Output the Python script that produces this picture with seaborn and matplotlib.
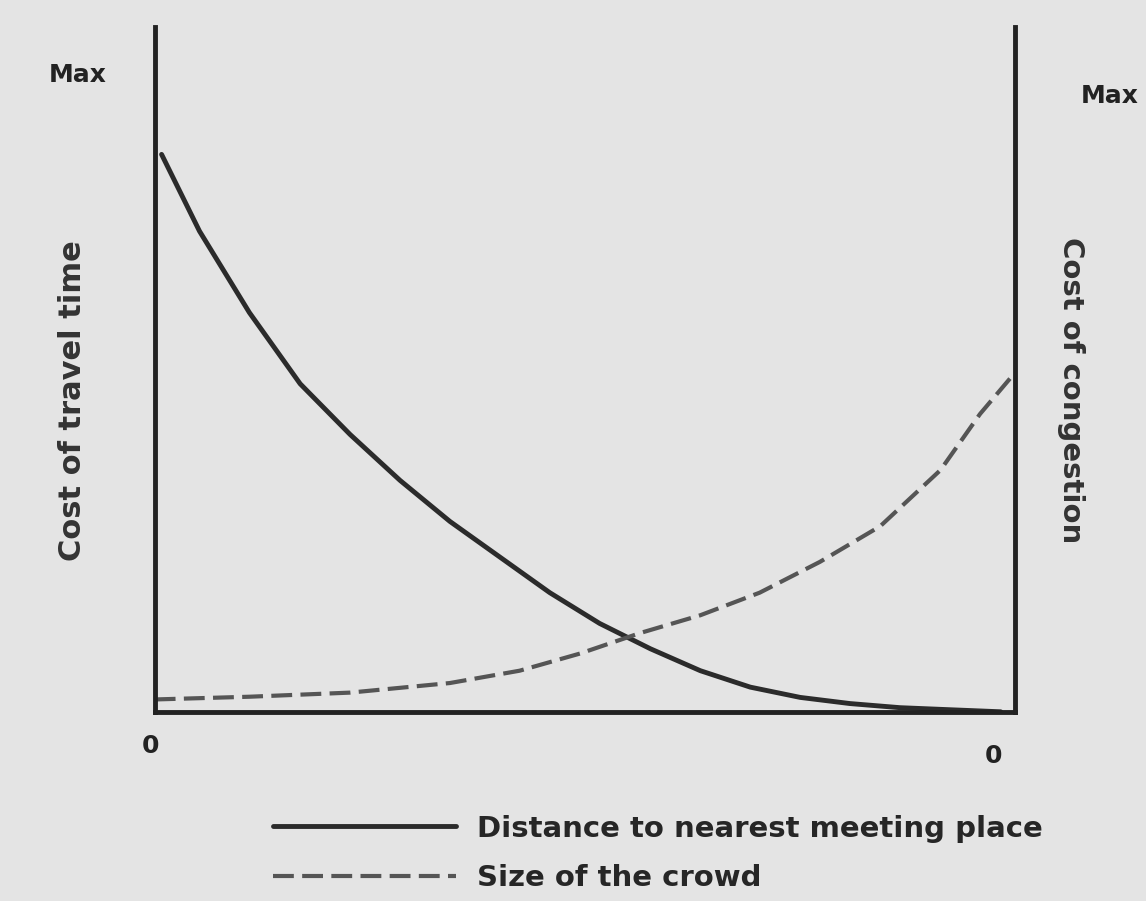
import matplotlib
matplotlib.use("Agg")
import matplotlib.pyplot as plt
import pandas as pd
import numpy as np
import seaborn as sns

# values (x: 0..1 along the axis, y: 0..100 where 100 = Max)
x_solid = [0.008, 0.052, 0.110, 0.169, 0.227, 0.285, 0.343, 0.401, 0.459,
           0.517, 0.576, 0.634, 0.692, 0.750, 0.808, 0.866, 0.924, 0.983]
y_solid = [81.4, 70.2, 58.3, 47.9, 40.5, 33.8, 27.8, 22.6, 17.4,
           12.9, 9.2, 6.0, 3.6, 2.1, 1.2, 0.6, 0.3, 0.0]

x_dashed = [0.0, 0.110, 0.227, 0.343, 0.424, 0.494, 0.564, 0.634,
            0.703, 0.773, 0.843, 0.913, 0.959, 0.994]
y_dashed = [1.8, 2.2, 2.8, 4.2, 6.0, 8.5, 11.5, 14.1,
            17.4, 21.9, 27.1, 35.3, 43.5, 48.7]

label_solid = "Distance to nearest meeting place"
label_dashed = "Size of the crowd"
left_label = "Cost of travel time"
right_label = "Cost of congestion"

sns.set_theme(style="white")
plt.rcParams['font.family'] = ['DejaVu Sans']
bg = "#e4e4e4"

df1 = pd.DataFrame({"x": x_solid, "y": y_solid})
df2 = pd.DataFrame({"x": x_dashed, "y": y_dashed})

fig = plt.figure(figsize=(11.46, 9.01), dpi=100, facecolor=bg)
ax = fig.add_axes([0.135, 0.21, 0.751, 0.76])
ax.set_facecolor(bg)

sns.lineplot(data=df1, x="x", y="y", ax=ax, color="#2b2b2b", linewidth=3.5,
             label=label_solid)
sns.lineplot(data=df2, x="x", y="y", ax=ax, color="#555555", linewidth=3,
             label=label_dashed)
ax.lines[1].set_dashes([5, 2])

ax.set_xlim(0, 1)
ax.set_ylim(0, 100)
ax.set_xticks([])
ax.set_yticks([])
ax.set_xlabel("")
ax.set_ylabel("")
for side in ["left", "bottom", "right"]:
    ax.spines[side].set_color("#222222")
    ax.spines[side].set_linewidth(3.5)
ax.spines["top"].set_visible(False)

# axis end labels
ax.text(-0.09, 0.93, "Max", transform=ax.transAxes, fontsize=18,
        fontweight="bold", ha="center", va="center", color="#222222")
ax.text(1.11, 0.9, "Max", transform=ax.transAxes, fontsize=18,
        fontweight="bold", ha="center", va="center", color="#222222")
ax.text(-0.005, -0.05, "0", transform=ax.transAxes, fontsize=18,
        fontweight="bold", ha="center", va="center", color="#222222")
ax.text(0.975, -0.065, "0", transform=ax.transAxes, fontsize=18,
        fontweight="bold", ha="center", va="center", color="#222222")

ax.text(-0.095, 0.455, left_label, transform=ax.transAxes, fontsize=22,
        fontweight="bold", rotation=90, ha="center", va="center", color="#333333")
ax.text(1.065, 0.47, right_label, transform=ax.transAxes, fontsize=21,
        fontweight="bold", rotation=270, ha="center", va="center", color="#333333")

handles, labels = ax.get_legend_handles_labels()
ax.get_legend().remove()
fig.legend(handles, labels, loc="upper left", bbox_to_anchor=(0.215, 0.125),
           frameon=False, handlelength=6.3, handletextpad=0.7,
           labelspacing=0.75, prop={"weight": "bold", "size": 21})

plt.savefig("out.png", dpi=100, facecolor=bg)
